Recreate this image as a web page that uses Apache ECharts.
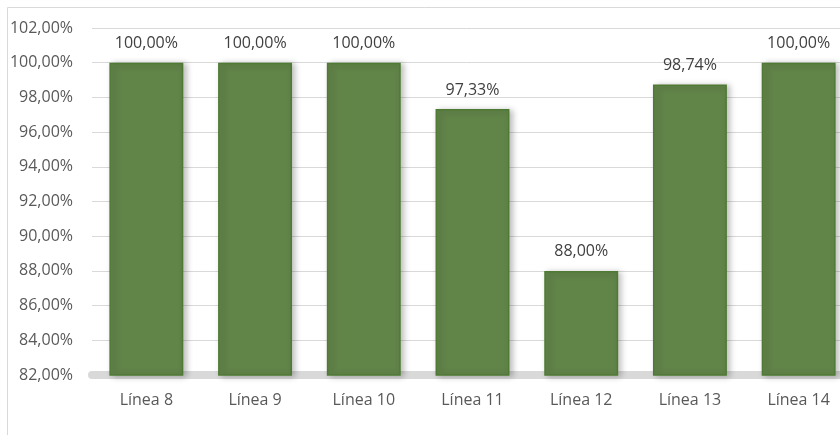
<!DOCTYPE html>
<html>
<head>
<meta charset="utf-8">
<script src="https://cdn.jsdelivr.net/npm/echarts@6/dist/echarts.min.js"></script>
<style>html,body{margin:0;padding:0;background:#fff;}#c{width:840px;height:435px;}</style>
</head>
<body>
<div id="c"></div>
<script>
const categories = ['Línea 8', 'Línea 9', 'Línea 10', 'Línea 11', 'Línea 12', 'Línea 13', 'Línea 14'];
const values = [100.00, 100.00, 100.00, 97.33, 88.00, 98.74, 100.00];
const yMin = 82, yMax = 102, yStep = 2;

const fmt = v => v.toFixed(2).replace('.', ',') + '%';
const FONT = 'Open Sans';

const chart = echarts.init(document.getElementById('c'));
chart.setOption({
  animation: false,
  backgroundColor: '#fff',
  graphic: [{
    type: 'rect', left: 5, top: 5, silent: true,
    shape: { x: 0.5, y: 0.5, width: 900, height: 500 },
    style: { fill: 'none', stroke: '#d9d9d9', lineWidth: 1 }
  }],
  grid: { left: 92, top: 28, width: 761, height: 347, containLabel: false, outerBoundsMode: 'none' },
  xAxis: {
    type: 'category',
    data: categories,
    axisTick: { show: false },
    axisLine: { show: true, lineStyle: { color: '#d9d9d9', width: 8 } },
    axisLabel: { color: '#595959', fontFamily: FONT, fontSize: 16, margin: 17 }
  },
  yAxis: {
    type: 'value', min: yMin, max: yMax, interval: yStep,
    axisLine: { show: false }, axisTick: { show: false },
    splitLine: { lineStyle: { color: '#d9d9d9', width: 1 } },
    axisLabel: { color: '#595959', fontFamily: FONT, fontSize: 16, margin: 19, formatter: v => fmt(v) }
  },
  series: [{
    type: 'bar',
    data: values,
    barCategoryGap: '32%',
    itemStyle: {
      color: '#618449', borderColor: '#4f7a34', borderWidth: 1.5,
      shadowBlur: 6, shadowOffsetX: 3, shadowOffsetY: 1, shadowColor: 'rgba(0,0,0,0.25)'
    },
    label: {
      show: true, position: 'top', distance: 11,
      color: '#404040', fontFamily: FONT, fontSize: 16,
      formatter: p => fmt(p.value)
    }
  }]
});
</script>
</body>
</html>
